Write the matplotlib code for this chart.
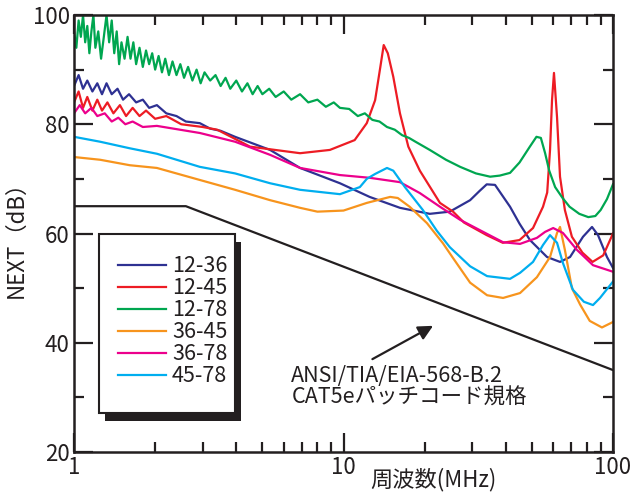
import matplotlib.pyplot as plt
from matplotlib.patches import Rectangle

plt.rcParams['font.family'] = ['Noto Sans CJK JP', 'DejaVu Sans']

# 12-36
f_1236 = [1.0, 1.04, 1.08, 1.12, 1.17, 1.22, 1.27, 1.32, 1.38, 1.45, 1.52, 1.6, 1.7, 1.8, 1.9, 2.03,
          2.2, 2.4, 2.6, 2.93, 3.2, 3.5, 3.96, 4.6, 5.34, 6.9, 9.7, 12.5, 16.2,
          20.9, 24.8, 29.5, 32, 34, 36.5, 41.5, 45, 49.2, 56.9, 63.6, 69.3, 77.4, 83.6, 88, 95, 100]
db_1236 = [87, 89, 86.5, 88, 86, 87.5, 85.5, 87.5, 85.5, 86.5, 84.5, 85.5, 84, 84.5, 83, 83.5,
           82, 81.5, 80.5, 80.2, 79.2, 78.8, 77.7, 76.5, 75.3, 72, 69.2, 66.7, 64.7,
           63.6, 64, 66.1, 67.8, 69, 68.9, 64.9, 61.8, 58.8, 55.7, 54.8, 55.7, 59.4, 61.2, 59.7, 55.7, 53.7]

# 12-45
f_1245 = [1.0, 1.04, 1.08, 1.12, 1.17, 1.22, 1.27, 1.33, 1.4, 1.48, 1.56, 1.65, 1.75, 1.85, 2.0, 2.2,
          2.5, 3.0, 3.4, 4.5, 6.9, 8.9, 11.0, 12.2, 13.1, 13.7, 14.1, 14.6, 15.3,
          16.2, 17.4, 19.2, 22.8, 25.5, 28, 34, 39, 45, 50.5, 55, 57, 58.4, 59.4, 60.4, 62, 63.6,
          66.3, 70.4, 77, 84, 92, 100]
db_1245 = [84, 86, 83, 85, 82.5, 84.5, 82.5, 84, 82, 83.5, 81.5, 83, 81.5, 82.5, 81, 81.5,
           80, 79.5, 79, 75.9, 74.7, 75.3, 77.1, 80.2, 84.4, 90.5, 94.5, 93, 88.7,
           82, 75.9, 71.5, 65.6, 64, 62, 59.7, 58.3, 58.8, 61, 64.9, 67.5, 75.3, 84.4, 89.4, 81.3, 70.4,
           64.3, 59.4, 56.5, 54.8, 56, 60]

# 12-78
f_1278 = [1.00, 1.02, 1.04, 1.06, 1.08, 1.10, 1.12, 1.14, 1.16, 1.18, 1.20, 1.23, 1.26, 1.29, 1.32,
          1.35, 1.38, 1.41, 1.44, 1.47, 1.50, 1.54, 1.58, 1.62, 1.66, 1.70, 1.75, 1.80, 1.85, 1.90,
          1.95, 2.00, 2.06, 2.12, 2.18, 2.25, 2.32, 2.40, 2.48, 2.56, 2.65, 2.75, 2.85, 2.95, 3.05,
          3.2, 3.35, 3.5, 3.65, 3.8, 4.0, 4.2, 4.4, 4.6, 4.8, 5.0, 5.3, 5.6, 6.0, 6.4, 6.9, 7.4, 8.0,
          8.6, 9.2, 9.7, 10.5, 11.3, 12.0, 12.8, 13.6, 14.5, 15.5, 16.5, 17.5, 18.5, 20.9,
          24, 27.1, 31, 35, 38, 41.5, 45, 49, 52, 54, 56, 58, 61, 65, 69, 75, 81, 86, 90, 95, 100]
db_1278 = [97, 94, 99, 96, 100, 95, 98, 93, 97, 100, 94, 97, 92, 96, 100,
           95, 99, 93, 97, 91, 95, 92, 96, 92, 95, 91, 94, 90.5, 93.5, 91,
           93, 90, 92.5, 89.5, 92, 89, 91.5, 89, 91, 88.5, 90.5, 88, 90, 87.5, 89.5,
           88, 89, 87, 88.5, 86.5, 88, 86, 87.5, 85.5, 87, 85.5, 86.5, 85, 86, 84.5, 85.5, 84, 84.5,
           83.2, 84, 83, 82.8, 81.5, 82, 80.8, 80.5, 79.5, 79, 78, 77.5, 76.8, 75.3,
           73.5, 72.2, 71, 70.4, 70.6, 71.1, 73, 75.8, 77.7, 77.5, 74.7, 71.5, 68.5, 66.5, 64.9, 63.6,
           63, 63.2, 64.3, 66.3, 69]

# 36-45
f_3645 = [1.0, 1.25, 1.61, 2.03, 2.93, 3.96, 5.34, 6.9, 8.0, 10.0, 12.2, 14.9, 15.9, 17.6, 20.4, 23.4,
          25.5, 29.5, 34.1, 39.1, 45.2, 52.2, 58.4, 62.0, 63.6, 66.3, 70.4, 75.5, 82, 91, 100]
db_3645 = [74, 73.5, 72.5, 72, 69.8, 68, 66.1, 64.7, 64, 64.2, 65.6, 66.7, 66.5, 64.9, 61.9, 58.2,
           55.5, 51, 48.7, 48.2, 49.1, 52, 55.7, 60.1, 61.2, 57, 50, 47, 44, 42.8, 43.8]

# 36-78
f_3678 = [1.0, 1.05, 1.1, 1.16, 1.22, 1.3, 1.38, 1.46, 1.55, 1.65, 1.8, 2.03, 2.93, 3.96, 5.34, 6.9,
          9.7, 12.5, 16.2, 19.2, 22.8, 27.1, 32.1, 39.1, 45.2, 52.2, 56, 60, 65.2, 73.5, 84.3, 100]
db_3678 = [82, 83.5, 82, 83, 81.5, 82, 80.5, 81.2, 80, 80.5, 79.5, 79.7, 78.4, 76.8, 74.4, 72,
           70.7, 70.2, 69.4, 67.4, 64.9, 62.5, 60.6, 58.4, 58.1, 59.2, 60.3, 61, 60.1, 57, 54.2, 53]

# 45-78
f_4578 = [1.0, 1.25, 1.61, 2.03, 2.93, 3.96, 5.34, 6.9, 9.7, 11.5, 12.2, 13.1, 14.5, 15.3, 16.9, 19.7,
          22.2, 24.8, 29.5, 34.1, 41.5, 45.2, 50.5, 55, 58.4, 62, 65.2, 71, 78, 84.3, 89.5, 100]
db_4578 = [77.7, 76.8, 75.6, 74.6, 72.2, 71, 69.2, 68, 67.2, 68.5, 70, 70.9, 72, 71.5, 68.5, 64.3,
           60.5, 57.5, 54, 52.2, 51.7, 52.8, 54.8, 57.9, 59.7, 58.3, 54.6, 49.7, 47.5, 46.9, 48.2, 51.2]

# ANSI/TIA/EIA-568-B.2 CAT5e limit
f_std = [1, 2.6, 100]
db_std = [65, 65, 35]

series = [
    ('12-36', f_1236, db_1236, '#2e3192'),
    ('12-45', f_1245, db_1245, '#ed1c24'),
    ('12-78', f_1278, db_1278, '#00a650'),
    ('36-45', f_3645, db_3645, '#f7941d'),
    ('36-78', f_3678, db_3678, '#ec008c'),
    ('45-78', f_4578, db_4578, '#00aeef'),
]

fig = plt.figure(figsize=(6.36, 4.92), dpi=100)
ax = fig.add_axes([0.1164, 0.0813, 0.8474, 0.8882])

lines = []
for name, f, db, c in series:
    ln, = ax.plot(f, db, color=c, lw=1.6, label=name)
    lines.append(ln)
ax.plot(f_std, db_std, color='#231f20', lw=1.6)

ax.set_xscale('log')
ax.set_xlim(1, 100)
ax.set_ylim(20, 100)
ax.set_yticks([20, 40, 60, 80, 100])
ax.set_yticks([30, 50, 70, 90], minor=True)
ax.set_xticks([1, 10, 100])
ax.set_xticklabels(['1', '10', '100'])
ax.tick_params(which='both', direction='in', top=True, right=True, width=1.6, color='#231f20',
               labelsize=16, labelcolor='#231f20')
ax.tick_params(which='major', length=14, pad=3)
ax.tick_params(which='minor', length=7)
for s in ax.spines.values():
    s.set_linewidth(1.8)
    s.set_color('#231f20')

ax.set_ylabel('NEXT（dB）', fontsize=16, color='#231f20', labelpad=4)
ax.set_xlabel('周波数(MHz)', fontsize=16, color='#231f20')
ax.xaxis.set_label_coords(0.666, -0.035)

# legend box with solid shadow
ax.add_patch(Rectangle((0.058, 0.071), 0.252, 0.41, transform=ax.transAxes,
                       facecolor='#231f20', edgecolor='none', zorder=4))
ax.add_patch(Rectangle((0.0464, 0.0892), 0.2523, 0.4097, transform=ax.transAxes,
                       facecolor='white', edgecolor='#231f20', lw=1.5, zorder=5))
leg = ax.legend(handles=lines, loc='upper left', bbox_to_anchor=(0.062, 0.475), frameon=False,
                fontsize=15.5, handlelength=2.2, handletextpad=0.3, labelspacing=0.0,
                borderpad=0)
leg.set_zorder(6)
for t in leg.get_texts():
    t.set_color('#231f20')

ax.annotate('', xy=(21.5, 43.1), xytext=(12.8, 37.0),
            arrowprops=dict(arrowstyle='-|>', lw=1.6, color='#231f20', mutation_scale=22,
                            shrinkA=0, shrinkB=0))
ax.text(6.4, 33.9, 'ANSI/TIA/EIA-568-B.2', fontsize=15.5, color='#231f20', va='center')
ax.text(6.4, 29.9, 'CAT5eパッチコード規格', fontsize=15.5, color='#231f20', va='center')

fig.savefig('out.png', dpi=100)
